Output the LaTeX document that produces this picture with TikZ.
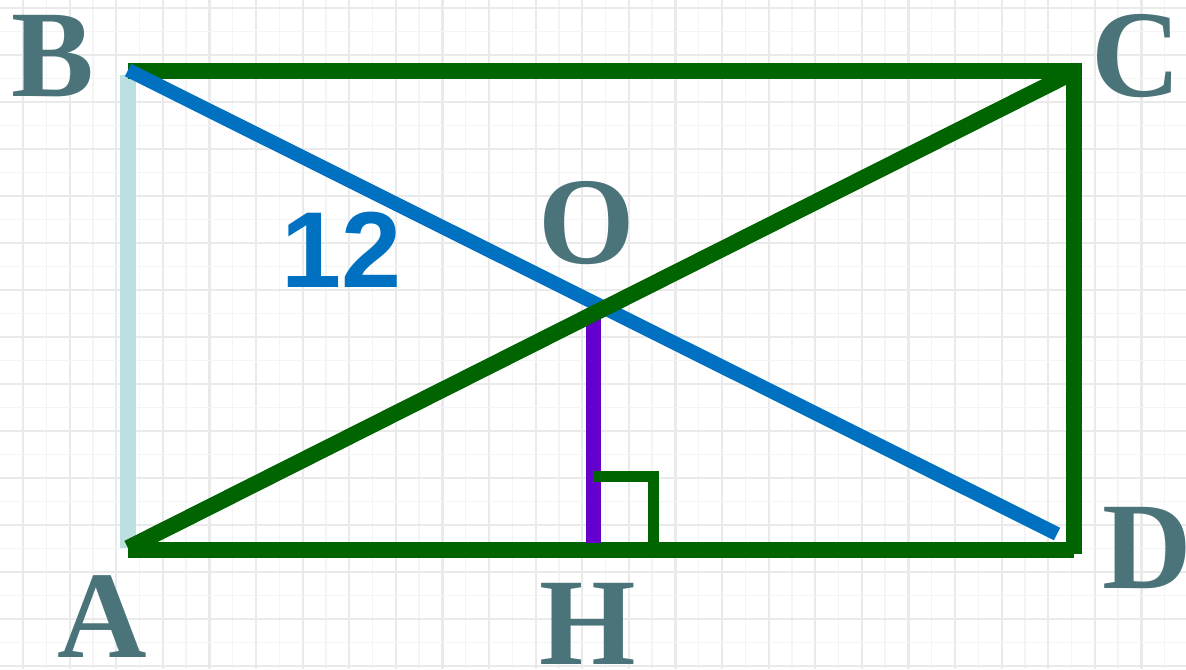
\documentclass[tikz,border=0pt]{standalone}
\usepackage{fontspec}
\usetikzlibrary{calc}
\newfontfamily\lblfont{Liberation Serif}
\newfontfamily\numfont{Liberation Sans}
\definecolor{dgreen}{HTML}{006400}
\definecolor{dblue}{HTML}{0070C0}
\definecolor{lblue}{HTML}{BCE0E2}
\definecolor{dpurple}{HTML}{6600CC}
\definecolor{lblcol}{HTML}{4A7479}
\definecolor{gridmaj}{HTML}{EAEAEA}
\definecolor{gridmin}{HTML}{F4F4F4}
\tikzset{
  lbl/.style={inner sep=0pt, text=lblcol, font=\lblfont\bfseries\fontsize{62}{62}\selectfont},
  numlbl/.style={inner sep=0pt, text=dblue, font=\numfont\bfseries\fontsize{54}{54}\selectfont},
  side/.style={draw=dgreen, line width=8pt, line cap=butt},
}
\begin{document}
\begin{tikzpicture}[x=0.5pt,y=-0.5pt]
\useasboundingbox (0,0) rectangle (1186,669);
\fill[white] (0,0) rectangle (1186,669);
% grid
\foreach \i in {0,...,25} {
  \draw[gridmin, line width=0.7pt] ({23+46.6*\i+23.3},0) -- ({23+46.6*\i+23.3},669);
  \draw[gridmaj, line width=1.1pt] ({23+46.6*\i},0) -- ({23+46.6*\i},669);
}
\foreach \j in {0,...,14} {
  \draw[gridmin, line width=0.7pt] (0,{8+47*\j+23.5}) -- (1186,{8+47*\j+23.5});
  \draw[gridmaj, line width=1.1pt] (0,{8+47*\j}) -- (1186,{8+47*\j});
}
% points
\coordinate (A) at (128,550);
\coordinate (B) at (128,71);
\coordinate (C) at (1074,71);
\coordinate (D) at (1074,550);
\coordinate (O) at (593,308);
\coordinate (H) at (593,543);
\coordinate (Bs) at (128,75);
\coordinate (As) at (128,548);
\coordinate (Ce) at (1082,71);
\coordinate (Ct) at (1074,70);
\coordinate (Db) at (1074,554);
\coordinate (Ac) at (128,548);
\coordinate (Cc) at (1070,74);
\coordinate (Bd) at (128,70);
\coordinate (Dd) at (1057,534);
\coordinate (R1) at (593,476);
\coordinate (R2) at (653.5,476);
\coordinate (R3) at (653.5,545);
% lines
\draw[draw=lblue, line width=8pt] (Bs) -- (As);
\draw[side] (B) -- (Ce);
\draw[side] (Ct) -- (Db);
\draw[side] (A) -- (D);
\draw[draw=dblue, line width=7pt] (Bd) -- (Dd);
\draw[draw=dpurple, line width=7.5pt] (O) -- (H);
\draw[side] (Ac) -- (Cc);
\draw[draw=dgreen, line width=5.5pt] (R1) -- (R2) -- (R3);
% labels
\node[lbl] (lB) at (53,56) {B};
\node[lbl] (lC) at (1136,56) {C};
\node[lbl] (lO) at (587,223) {O};
\node[lbl] (lD) at (1147,548) {D};
\node[lbl] (lA) at (102,617) {A};
\node[lbl] (lH) at (588,624) {H};
\node[numlbl] (l12) at (342,250) {12};
\end{tikzpicture}
\end{document}
